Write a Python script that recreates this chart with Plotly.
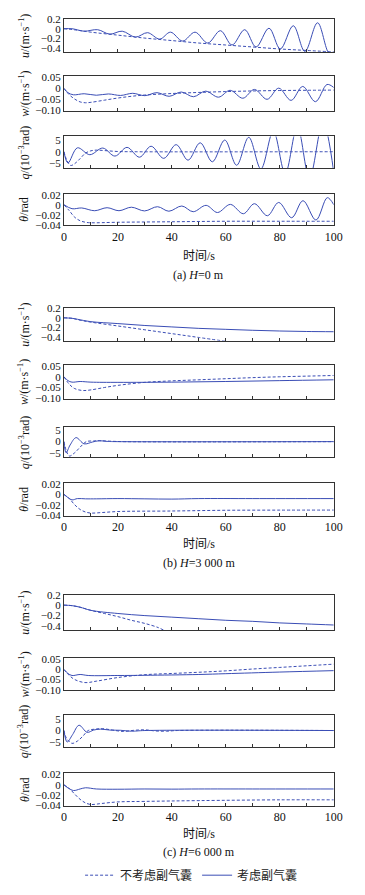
import plotly.graph_objects as go

# ---------------- data ----------------
# (a) H = 0 m
a_u_dash_t = [0, 5, 10, 20, 30, 40, 50, 60, 70, 80, 90, 100]
a_u_dash = [0, -0.03, -0.07, -0.13, -0.19, -0.24, -0.29, -0.33, -0.37, -0.41, -0.44, -0.47]
a_u_sol_t = [0, 3, 7.5, 12.5, 17, 21.6, 26.5, 31, 35.5, 39.5, 44, 48.6, 53.3, 58, 62.3, 67, 71.2, 76, 80.2, 85, 89.3, 94, 98.3, 100]
a_u_sol = [0, 0.0, -0.05, -0.02, -0.11, -0.05, -0.17, -0.08, -0.21, -0.07, -0.25, -0.07, -0.29, -0.04, -0.33, -0.02, -0.37, 0.01, -0.41, 0.06, -0.46, 0.12, -0.50, -0.47]

a_w_dash_t = [0, 2, 4, 6, 8, 10, 15, 20, 25, 30, 40, 50, 60, 70, 80, 90, 100]
a_w_dash = [0, -0.03, -0.05, -0.063, -0.067, -0.065, -0.055, -0.045, -0.037, -0.031, -0.024, -0.019, -0.015, -0.012, -0.010, -0.009, -0.008]
a_w_sol_t = [0, 1.5, 3.5, 7.5, 12, 16.5, 21, 25.5, 30, 34.5, 39, 43.5, 48, 52.5, 57.3, 61.6, 66.3, 70.6, 75.3, 79.6, 84.2, 88.5, 93.2, 97.5, 100]
a_w_sol = [0, -0.02, -0.03, -0.025, -0.032, -0.026, -0.033, -0.023, -0.034, -0.020, -0.037, -0.017, -0.039, -0.013, -0.041, -0.009, -0.046, -0.005, -0.051, 0.001, -0.056, 0.009, -0.062, 0.018, 0.004]

a_q_dash_t = [0, 1, 2.5, 4, 6, 8, 10, 12, 15, 20, 25, 100]
a_q_dash = [0, -3.5, -6.0, -5.2, -3.0, -0.6, 0.4, 0.7, 0.5, 0.1, 0, 0]
a_q_sol_t = [0, 1.5, 5, 9.6, 14.4, 18.9, 23.4, 28, 32.3, 37, 41.6, 46, 50.5, 55, 59.6, 64, 68.5, 73, 77.6, 82, 86.5, 91, 96, 100]
a_q_sol = [0, -4.9, 1.7, -1.3, 1.6, -1.9, 1.9, -2.4, 2.4, -2.9, 3.1, -3.7, 3.9, -4.4, 5.1, -5.9, 6.3, -7.5, 9.0, -9.5, 11.0, -11.5, 13.0, -9.0]

a_th_dash_t = [0, 2, 4, 6, 8, 10, 20, 40, 60, 80, 100]
a_th_dash = [0, -0.012, -0.025, -0.032, -0.035, -0.036, -0.035, -0.034, -0.033, -0.033, -0.033]
a_th_sol_t = [0, 3, 6.6, 11.4, 16, 20.4, 25, 29.9, 34.7, 38.9, 43.7, 47.9, 52.7, 56.9, 61.7, 66.5, 70.6, 75.4, 79.6, 84.4, 88.6, 93.4, 97.6, 100]
a_th_sol = [0, -0.008, -0.0065, -0.012, -0.006, -0.012, -0.005, -0.0124, -0.004, -0.013, -0.0026, -0.014, -0.0013, -0.0156, 0.0006, -0.018, 0.002, -0.022, 0.0045, -0.026, 0.008, -0.0306, 0.014, 0.0]

# (b) H = 3 000 m
b_u_dash_t = [0, 3, 6, 10, 20, 30, 40, 50, 60]
b_u_dash = [0, -0.01, -0.05, -0.09, -0.17, -0.25, -0.33, -0.41, -0.49]
b_u_sol_t = [0, 3, 5, 10, 20, 30, 40, 50, 60, 70, 80, 90, 100]
b_u_sol = [0, -0.01, -0.03, -0.08, -0.12, -0.16, -0.19, -0.22, -0.24, -0.26, -0.275, -0.285, -0.29]

b_w_dash_t = [0, 2, 4, 7, 10, 15, 20, 30, 40, 50, 60, 70, 80, 90, 100]
b_w_dash = [0, -0.035, -0.055, -0.064, -0.061, -0.05, -0.04, -0.026, -0.019, -0.014, -0.009, -0.004, 0.0, 0.003, 0.006]
b_w_sol_t = [0, 1.5, 3, 6, 10, 20, 40, 60, 80, 100]
b_w_sol = [0, -0.018, -0.025, -0.022, -0.025, -0.026, -0.025, -0.022, -0.018, -0.014]

b_q_dash_t = [0, 1, 2, 4, 6, 8.3, 11, 13.3, 17, 22, 100]
b_q_dash = [0, -4.5, -6.5, -5.0, -2.5, 0, 0.3, 0.4, 0.2, 0, 0]
b_q_sol_t = [0, 0.8, 2.3, 4.5, 7.5, 10.5, 13, 16, 20, 100]
b_q_sol = [0, -5.0, -1.5, 1.8, -1.0, -0.2, 0.4, 0.1, 0, 0]

b_th_dash_t = [0, 2, 4, 6, 8, 10, 14, 20, 40, 60, 80, 100]
b_th_dash = [0, -0.008, -0.02, -0.029, -0.034, -0.036, -0.035, -0.033, -0.032, -0.0306, -0.0303, -0.0302]
b_th_sol_t = [0, 1.5, 3, 5, 8, 12, 20, 30, 40, 50, 70, 100]
b_th_sol = [0, -0.006, -0.0105, -0.008, -0.0085, -0.0085, -0.008, -0.0085, -0.009, -0.008, -0.008, -0.008]

# (c) H = 6 000 m
c_u_dash_t = [0, 3, 6, 10, 15, 20, 25, 30, 35, 37]
c_u_dash = [0, -0.01, -0.04, -0.10, -0.16, -0.22, -0.29, -0.35, -0.43, -0.48]
c_u_sol_t = [0, 3, 6, 10, 20, 30, 40, 50, 60, 70, 80, 90, 100]
c_u_sol = [0, -0.01, -0.04, -0.10, -0.16, -0.20, -0.23, -0.26, -0.29, -0.31, -0.34, -0.36, -0.38]

c_w_dash_t = [0, 2, 4, 7.8, 12, 20, 30, 40, 50, 60, 70, 80, 90, 100]
c_w_dash = [0, -0.03, -0.05, -0.065, -0.058, -0.04, -0.026, -0.02, -0.014, -0.007, 0.002, 0.01, 0.018, 0.026]
c_w_sol_t = [0, 1.5, 3, 6, 9, 20, 30, 50, 60, 80, 100]
c_w_sol = [0, -0.02, -0.03, -0.025, -0.03, -0.03, -0.029, -0.025, -0.021, -0.013, -0.006]

c_q_dash_t = [0, 1, 3, 5, 7, 9, 11.5, 14.4, 18, 22, 26, 30, 34, 38, 42, 100]
c_q_dash = [0, -3.5, -5.6, -4.6, -2.5, 0, 0.6, 0.8, 0.2, -0.4, 0.1, 0.3, -0.2, -0.3, 0, 0]
c_q_sol_t = [0, 1.2, 3.2, 5.6, 8.6, 11, 13.5, 17, 21, 25, 30, 100]
c_q_sol = [0, -5.0, -1.8, 2.3, -0.8, 0.2, 0.6, 0.2, 0.1, -0.3, 0, 0]

c_th_dash_t = [0, 2, 4, 6, 8, 10, 14, 20, 30, 50, 80, 100]
c_th_dash = [0, -0.007, -0.018, -0.028, -0.035, -0.038, -0.036, -0.033, -0.032, -0.0305, -0.029, -0.029]
c_th_sol_t = [0, 1.5, 3.6, 6, 8, 12, 20, 30, 40, 50, 70, 100]
c_th_sol = [0, -0.006, -0.011, -0.008, -0.0057, -0.008, -0.0085, -0.008, -0.0083, -0.008, -0.008, -0.008]

x_ticks = [0, 20, 40, 60, 80, 100]
u_ticks = [0.2, 0, -0.2, -0.4]
u_labels = ["0.2", "0", "\u22120.2", "\u22120.4"]
w_ticks = [0.05, 0, -0.05, -0.10]
w_labels = ["0.05", "0", "\u22120.05", "\u22120.10"]
q_ticks = [5, 0, -5]
q_labels = ["5", "0", "\u22125"]
th_ticks = [0.02, 0, -0.02, -0.04]
th_labels = ["0.02", "0", "\u22120.02", "\u22120.04"]

series_names = ["不考虑副气囊", "考虑副气囊"]
group_titles = ["(a) <i>H</i>=0 m", "(b) <i>H</i>=3 000 m", "(c) <i>H</i>=6 000 m"]
y_titles = ["<i>u</i>/(m·s<sup>\u22121</sup>)", "<i>w</i>/(m·s<sup>\u22121</sup>)",
            "<i>q</i>/(10<sup>\u22123</sup>rad)", "<i>θ</i>/rad"]
x_title = "时间/s"

# ---------------- layout geometry ----------------
W, H = 365, 895
LINE = "#3a4db5"
SERIF = "Liberation Serif, Times New Roman, Noto Sans CJK SC, serif"
CJK = "Noto Sans CJK SC, sans-serif"

panel_px = [
    [(13, 47), (71, 106), (132, 164), (190, 222)],
    [(306, 339), (363, 398), (426, 457), (483, 516)],
    [(596, 632), (660, 693), (718, 750), (777, 810)],
]
xlabel_px = [253, 545, 838]
gtitle_px = [272, 564, 857]
x0_px, x1_px = 63, 342

ranges = [[-0.48, 0.2], [-0.104, 0.057], [-7.1, 6.7], [-0.041, 0.022]]
ticks = [(u_ticks, u_labels), (w_ticks, w_labels), (q_ticks, q_labels), (th_ticks, th_labels)]

data = [
    [(a_u_dash_t, a_u_dash, a_u_sol_t, a_u_sol), (a_w_dash_t, a_w_dash, a_w_sol_t, a_w_sol),
     (a_q_dash_t, a_q_dash, a_q_sol_t, a_q_sol), (a_th_dash_t, a_th_dash, a_th_sol_t, a_th_sol)],
    [(b_u_dash_t, b_u_dash, b_u_sol_t, b_u_sol), (b_w_dash_t, b_w_dash, b_w_sol_t, b_w_sol),
     (b_q_dash_t, b_q_dash, b_q_sol_t, b_q_sol), (b_th_dash_t, b_th_dash, b_th_sol_t, b_th_sol)],
    [(c_u_dash_t, c_u_dash, c_u_sol_t, c_u_sol), (c_w_dash_t, c_w_dash, c_w_sol_t, c_w_sol),
     (c_q_dash_t, c_q_dash, c_q_sol_t, c_q_sol), (c_th_dash_t, c_th_dash, c_th_sol_t, c_th_sol)],
]

def py(p):
    return 1 - p / H

fig = go.Figure()
layout = {}
annotations = []
k = 0
for g in range(3):
    for v in range(4):
        k += 1
        xa = "x" if k == 1 else f"x{k}"
        ya = "y" if k == 1 else f"y{k}"
        dt, dv, st, sv = data[g][v]
        first = (k == 1)
        fig.add_trace(go.Scatter(x=dt, y=dv, mode="lines", line=dict(color=LINE, width=1, dash="3px,2px", shape="spline"),
                                 name=series_names[0], showlegend=first, xaxis=xa, yaxis=ya, cliponaxis=True))
        fig.add_trace(go.Scatter(x=st, y=sv, mode="lines", line=dict(color=LINE, width=1, shape="spline"),
                                 name=series_names[1], showlegend=first, xaxis=xa, yaxis=ya, cliponaxis=True))
        top, bot = panel_px[g][v]
        xkey = "xaxis" if k == 1 else f"xaxis{k}"
        ykey = "yaxis" if k == 1 else f"yaxis{k}"
        xa_dict = dict(domain=[x0_px / W, x1_px / W], anchor=ya, range=[0, 100],
                       showline=True, mirror=True, linecolor="#333", linewidth=1,
                       showgrid=False, zeroline=False, ticks="inside", ticklen=3, tickcolor="#333",
                       tickvals=x_ticks,
                       minor=dict(ticks="inside", dtick=10, ticklen=3, tickcolor="#333", showgrid=False),
                       showticklabels=(v == 3))
        if v == 3:
            xa_dict["ticktext"] = [str(t) for t in x_ticks]
            xa_dict["tickfont"] = dict(family=SERIF, size=12, color="#111")
        layout[xkey] = xa_dict
        tv, tl = ticks[v]
        layout[ykey] = dict(domain=[py(bot), py(top)], anchor=xa, range=ranges[v],
                            showline=True, mirror=True, linecolor="#333", linewidth=1,
                            showgrid=False, zeroline=False, ticks="", tickvals=tv, ticktext=tl,
                            tickfont=dict(family=SERIF, size=11, color="#111"))
        annotations.append(dict(text=y_titles[v], x=22 / W, y=py((top + bot) / 2), xref="paper", yref="paper",
                                xanchor="center", yanchor="middle", textangle=-90, showarrow=False,
                                font=dict(family=SERIF, size=12, color="#111")))
    annotations.append(dict(text=x_title, x=(x0_px + x1_px) / 2 / W, y=py(xlabel_px[g]), xref="paper", yref="paper",
                            xanchor="center", yanchor="middle", showarrow=False,
                            font=dict(family=SERIF, size=12, color="#111")))
    annotations.append(dict(text=group_titles[g], x=(x0_px + x1_px) / 2 / W, y=py(gtitle_px[g]), xref="paper", yref="paper",
                            xanchor="center", yanchor="middle", showarrow=False,
                            font=dict(family=SERIF, size=12, color="#111")))

fig.update_layout(
    width=W, height=H, margin=dict(l=0, r=0, t=0, b=0),
    paper_bgcolor="white", plot_bgcolor="white",
    showlegend=True,
    legend=dict(orientation="h", x=195 / W, xanchor="center", y=py(880), yanchor="middle",
                font=dict(family=CJK, size=12, color="#222"), bgcolor="rgba(0,0,0,0)",
                itemwidth=30, tracegroupgap=0),
    annotations=annotations,
    **layout,
)

fig.write_html("out.html", config={"displayModeBar": False, "responsive": False},
               post_script="document.body.style.margin='0';document.body.style.padding='0';"
                           "document.documentElement.style.overflow='hidden';document.body.style.overflow='hidden';")
